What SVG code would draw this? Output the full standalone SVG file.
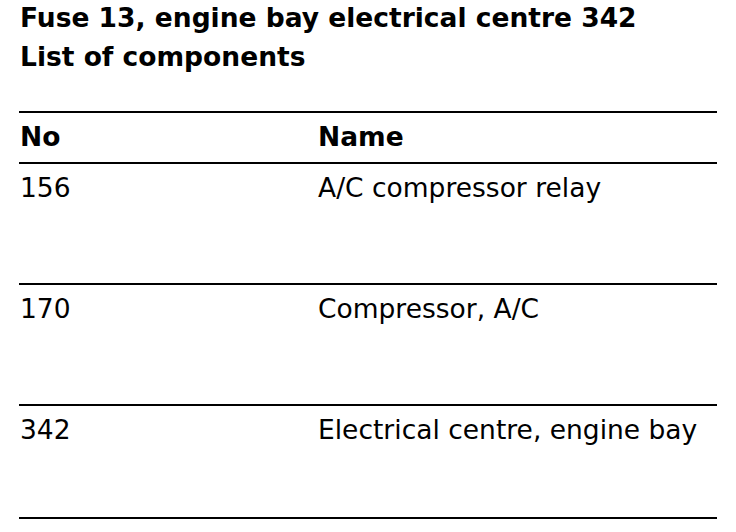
<svg xmlns="http://www.w3.org/2000/svg" width="736" height="532" viewBox="0 0 736 532">
<style>
text { font-family: "DejaVu Sans", Verdana, sans-serif; fill: #000; }
.h { font-size: 26.5px; font-weight: bold; }
.t { font-size: 26.5px; }
.rule { stroke: #000; stroke-width: 2; }
</style>
<rect width="736" height="532" fill="#fff"/>
<g id="title">
<text class="h" x="20" y="27">Fuse 13, engine bay electrical centre 342</text>
<text class="h" x="20" y="66">List of components</text>
</g>
<g id="rules">
<line class="rule" x1="19" y1="112" x2="717" y2="112"/>
<line class="rule" x1="19" y1="163" x2="717" y2="163"/>
<line class="rule" x1="19" y1="284" x2="717" y2="284"/>
<line class="rule" x1="19" y1="405" x2="717" y2="405"/>
<line class="rule" x1="19" y1="518" x2="717" y2="518"/>
</g>
<g id="header">
<text class="h" x="20" y="146">No</text>
<text class="h" x="318" y="146">Name</text>
</g>
<g id="row-156">
<text class="t" x="20" y="197">156</text>
<text class="t" x="318" y="197">A/C compressor relay</text>
</g>
<g id="row-170">
<text class="t" x="20" y="318">170</text>
<text class="t" x="318" y="318">Compressor, A/C</text>
</g>
<g id="row-342">
<text class="t" x="20" y="439">342</text>
<text class="t" x="318" y="439">Electrical centre, engine bay</text>
</g>
</svg>
